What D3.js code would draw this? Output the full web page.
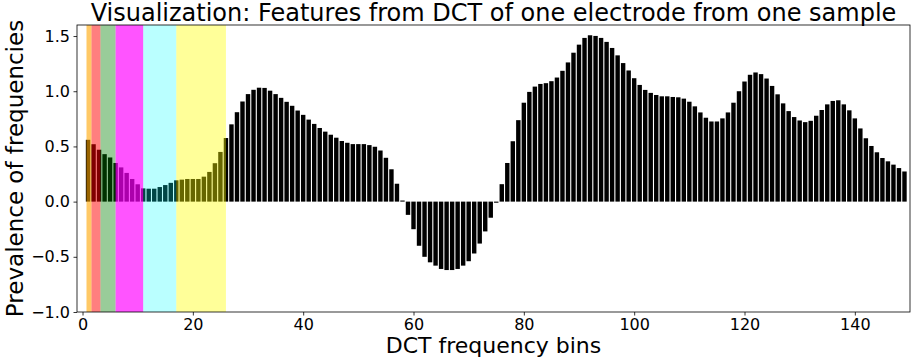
<!DOCTYPE html>
<html>
<head>
<meta charset="utf-8">
<script src="https://cdn.jsdelivr.net/npm/d3@7"></script>
<style>
  html, body { margin: 0; padding: 0; background: #fff; }
  svg { display: block; font-family: "DejaVu Sans", sans-serif; }
</style>
</head>
<body>
<svg id="chart" width="913" height="360"></svg>
<script>
// DCT bins (x positions of the bars)
const bins = d3.range(1, 150);
// Feature values per bin
const values = [
  0.56, 0.52, 0.47, 0.43, 0.40, 0.35, 0.31, 0.26, 0.205, 0.157,
  0.12, 0.117, 0.117, 0.132, 0.15, 0.17, 0.193, 0.199, 0.205, 0.205,
  0.205, 0.226, 0.269, 0.348, 0.45, 0.576, 0.70, 0.81, 0.907, 0.974,
  1.013, 1.032, 1.03, 1.005, 0.974, 0.94, 0.904, 0.868, 0.825, 0.786,
  0.743, 0.704, 0.667, 0.634, 0.606, 0.579, 0.549, 0.533, 0.521, 0.521,
  0.521, 0.512, 0.497, 0.463, 0.397, 0.293, 0.162, 0.01, -0.12, -0.25,
  -0.40, -0.50, -0.55, -0.58, -0.61, -0.62, -0.62, -0.61, -0.58, -0.54,
  -0.47, -0.38, -0.27, -0.146, -0.01, 0.158, 0.35, 0.547, 0.738, 0.896,
  0.994, 1.042, 1.066, 1.073, 1.091, 1.124, 1.185, 1.261, 1.349, 1.422,
  1.483, 1.507, 1.501, 1.483, 1.447, 1.392, 1.325, 1.255, 1.188, 1.118,
  1.057, 1.012, 0.985, 0.966, 0.954, 0.954, 0.948, 0.945, 0.933, 0.905,
  0.863, 0.808, 0.76, 0.726, 0.726, 0.754, 0.808, 0.896, 1.0, 1.088,
  1.149, 1.17, 1.155, 1.115, 1.048, 0.972, 0.89, 0.82, 0.766, 0.735,
  0.72, 0.732, 0.778, 0.83, 0.881, 0.912, 0.918, 0.881, 0.827, 0.754,
  0.663, 0.574, 0.504, 0.447, 0.395, 0.365, 0.335, 0.304, 0.273
];
// Highlighted frequency bands [start, end]
const bandStarts = [0.72, 1.63, 3.26, 6, 11, 17];
const bandEnds   = [1.63, 3.26, 6, 11, 17, 26];
const bandColors = ["orange", "red", "green", "magenta", "cyan", "yellow"];
const bandAlphas = [0.6, 0.5, 0.4, 0.67, 0.27, 0.4];
// Axis ticks
const xTicks = [0, 20, 40, 60, 80, 100, 120, 140];
const yTicks = [-1.0, -0.5, 0.0, 0.5, 1.0, 1.5];
const xDomain = [-1, 150];
const yDomain = [-1, 1.6];

const titleText = "Visualization: Features from DCT of one electrode from one sample";
const xLabel = "DCT frequency bins";
const yLabel = "Prevalence of frequencies";

const W = 913, H = 360;
const m = { left: 77, right: 3, top: 25, bottom: 48 };
const iw = W - m.left - m.right, ih = H - m.top - m.bottom;

const svg = d3.select("#chart");
const g = svg.append("g").attr("transform", `translate(${m.left},${m.top})`);

const x = d3.scaleLinear().domain(xDomain).range([0, iw]);
const y = d3.scaleLinear().domain(yDomain).range([ih, 0]);

const barW = 0.8;

g.append("defs").append("clipPath").attr("id", "clip")
  .append("rect").attr("width", iw).attr("height", ih);

const plot = g.append("g").attr("clip-path", "url(#clip)");

plot.selectAll("rect.bar").data(bins).enter().append("rect")
  .attr("class", "bar")
  .attr("x", (d) => x(d - barW / 2))
  .attr("width", x(barW) - x(0))
  .attr("y", (d, i) => y(Math.max(0, values[i])))
  .attr("height", (d, i) => Math.abs(y(values[i]) - y(0)))
  .attr("fill", "#000");

plot.selectAll("rect.band").data(bandStarts).enter().append("rect")
  .attr("class", "band")
  .attr("x", (d) => x(d))
  .attr("width", (d, i) => x(bandEnds[i]) - x(d))
  .attr("y", 0)
  .attr("height", ih)
  .attr("fill", (d, i) => bandColors[i])
  .attr("fill-opacity", (d, i) => bandAlphas[i]);

// Axes
const xAxis = d3.axisBottom(x).tickValues(xTicks).tickSize(3.5).tickPadding(3)
  .tickFormat(d3.format("d"));
const yAxis = d3.axisLeft(y).tickValues(yTicks).tickSize(3.5).tickPadding(3.5)
  .tickFormat((d) => d3.format(".1f")(d).replace("-", "\u2212"));

const gx = g.append("g").attr("transform", `translate(0,${ih})`).call(xAxis);
const gy = g.append("g").call(yAxis);
[gx, gy].forEach((a) => {
  a.select(".domain").remove();
  a.selectAll(".tick line").attr("stroke", "#000").attr("stroke-width", 0.8);
  a.selectAll(".tick text").attr("fill", "#000").style("font-size", "16px")
    .style("font-family", "DejaVu Sans, sans-serif");
});

// Frame
g.append("rect").attr("width", iw).attr("height", ih)
  .attr("fill", "none").attr("stroke", "#000").attr("stroke-width", 0.8);

// Title and labels
svg.append("text").attr("x", m.left + iw / 2).attr("y", 21)
  .attr("text-anchor", "middle").style("font-size", "24px").text(titleText);
svg.append("text").attr("x", m.left + iw / 2).attr("y", 353)
  .attr("text-anchor", "middle").style("font-size", "22px").text(xLabel);
svg.append("text").attr("transform", `translate(23,${m.top + ih / 2}) rotate(-90)`)
  .attr("text-anchor", "middle").style("font-size", "23px").text(yLabel);
</script>
</body>
</html>
